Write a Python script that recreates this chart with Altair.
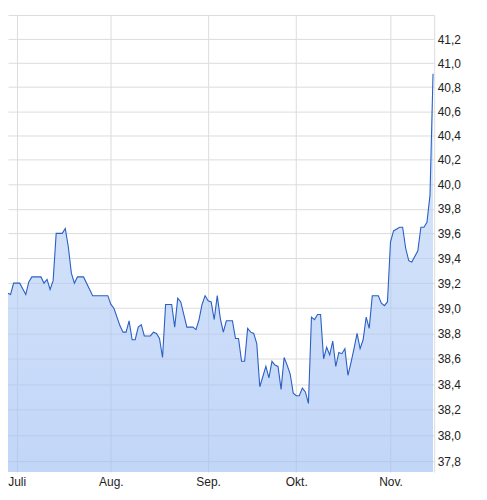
import altair as alt
import pandas as pd

# Kursverlauf
dates = [
    "2024-06-26", "2024-06-27", "2024-06-28", "2024-06-29", "2024-06-30",
    "2024-07-02", "2024-07-04", "2024-07-05", "2024-07-06", "2024-07-09",
    "2024-07-10", "2024-07-11", "2024-07-12", "2024-07-13", "2024-07-14",
    "2024-07-16", "2024-07-17", "2024-07-18", "2024-07-19", "2024-07-20",
    "2024-07-21", "2024-07-23", "2024-07-26", "2024-07-31", "2024-08-01",
    "2024-08-02", "2024-08-04", "2024-08-05", "2024-08-06", "2024-08-07",
    "2024-08-08", "2024-08-09", "2024-08-10", "2024-08-11", "2024-08-12",
    "2024-08-14", "2024-08-15", "2024-08-16", "2024-08-17", "2024-08-18",
    "2024-08-19", "2024-08-21", "2024-08-22", "2024-08-23", "2024-08-24",
    "2024-08-26", "2024-08-28", "2024-08-29", "2024-08-30", "2024-08-31",
    "2024-09-01", "2024-09-02", "2024-09-03", "2024-09-04", "2024-09-05",
    "2024-09-06", "2024-09-07", "2024-09-08", "2024-09-10", "2024-09-11",
    "2024-09-12", "2024-09-13", "2024-09-14", "2024-09-15", "2024-09-16",
    "2024-09-17", "2024-09-18", "2024-09-19", "2024-09-21", "2024-09-22",
    "2024-09-23", "2024-09-24", "2024-09-25", "2024-09-26", "2024-09-27",
    "2024-09-28", "2024-09-29", "2024-09-30", "2024-10-01", "2024-10-02",
    "2024-10-03", "2024-10-04", "2024-10-05", "2024-10-06", "2024-10-07",
    "2024-10-08", "2024-10-09", "2024-10-10", "2024-10-11", "2024-10-12",
    "2024-10-13", "2024-10-14", "2024-10-15", "2024-10-16", "2024-10-17",
    "2024-10-18", "2024-10-19", "2024-10-20", "2024-10-21", "2024-10-22",
    "2024-10-23", "2024-10-24", "2024-10-25", "2024-10-26", "2024-10-28",
    "2024-10-29", "2024-10-30", "2024-10-31", "2024-11-01", "2024-11-02",
    "2024-11-04", "2024-11-05", "2024-11-06", "2024-11-07", "2024-11-08",
    "2024-11-10", "2024-11-11", "2024-11-12", "2024-11-13", "2024-11-14",
    "2024-11-15",
]
prices = [
    39.02, 39.07, 39.12, 39.11, 39.20,
    39.20, 39.11, 39.21, 39.25, 39.25,
    39.20, 39.23, 39.15, 39.22, 39.60,
    39.60, 39.64, 39.49, 39.28, 39.20,
    39.25, 39.25, 39.10, 39.10, 39.03,
    39.00, 38.86, 38.81, 38.81, 38.90,
    38.75, 38.75, 38.85, 38.87, 38.78,
    38.78, 38.81, 38.80, 38.76, 38.61,
    39.03, 39.03, 38.85, 39.08, 39.05,
    38.85, 38.85, 38.83, 38.91, 39.03,
    39.10, 39.06, 39.05, 38.91, 39.10,
    38.92, 38.81, 38.90, 38.90, 38.76,
    38.76, 38.58, 38.58, 38.84, 38.81,
    38.80, 38.72, 38.38, 38.54, 38.45,
    38.58, 38.55, 38.54, 38.36, 38.61,
    38.55, 38.48, 38.33, 38.31, 38.31,
    38.37, 38.34, 38.25, 38.93, 38.91,
    38.95, 38.95, 38.60, 38.69, 38.63,
    38.74, 38.54, 38.65, 38.64, 38.68,
    38.47, 38.57, 38.68, 38.80, 38.68,
    38.75, 38.93, 38.84, 39.10, 39.10,
    39.04, 39.02, 39.05, 39.53, 39.62,
    39.65, 39.65, 39.48, 39.38, 39.37,
    39.46, 39.65, 39.65, 39.69, 39.91,
    40.91,
]

month_names = ["Jan.", "Feb.", "März", "Apr.", "Mai", "Juni",
               "Juli", "Aug.", "Sep.", "Okt.", "Nov.", "Dez."]
month_ticks = ["2024-07-01", "2024-08-01", "2024-09-02", "2024-10-01", "2024-11-01"]
y_ticks = [37.8, 38.0, 38.2, 38.4, 38.6, 38.8, 39.0, 39.2, 39.4, 39.6,
           39.8, 40.0, 40.2, 40.4, 40.6, 40.8, 41.0, 41.2, 41.4]
y_min, y_max = 37.718, 41.404
x_start = pd.Timestamp("2024-06-28T03:36:00Z")
x_end = pd.Timestamp("2024-11-15T09:07:00Z")

df = pd.DataFrame({"date": dates, "price": prices})

def ms(ts):
    return int(pd.Timestamp(ts, tz="UTC").value // 10**6) if pd.Timestamp(ts).tzinfo is None else int(pd.Timestamp(ts).value // 10**6)

x_enc = alt.X(
    "date:T",
    scale=alt.Scale(type="utc", domain=[ms(x_start), ms(x_end)]),
    axis=alt.Axis(
        values=[ms(t) for t in month_ticks],
        labelExpr="%s[utcmonth(datum.value)]" % str(month_names).replace('"', "'"),
        title=None,
        ticks=False,
        domain=False,
        labelPadding=4,
        labelFont="Liberation Sans",
        labelFontSize=12,
        labelColor="#222222",
        gridColor="#dcdcdc",
        gridWidth=1,
    ),
)
y_scale = alt.Scale(type="log", domain=[y_min, y_max], nice=False, zero=False)
y_enc = alt.Y(
    "price:Q",
    scale=y_scale,
    axis=alt.Axis(
        orient="right",
        values=y_ticks,
        labelExpr="datum.value > 41.3 ? '' : replace(format(datum.value, '.1f'), '.', ',')",
        title=None,
        ticks=False,
        domainColor="#dcdcdc",
        labelPadding=3,
        labelFont="Liberation Sans",
        labelFontSize=12,
        labelColor="#222222",
        gridColor="#dcdcdc",
        gridWidth=1,
    ),
)

area = alt.Chart(df).mark_area(
    clip=True,
    fillOpacity=0.63,
    color=alt.Gradient(
        gradient="linear",
        stops=[alt.GradientStop(color="#c6daf8", offset=0),
               alt.GradientStop(color="#9ebef4", offset=1)],
        x1=0, x2=0, y1=0, y2=1,
    ),
).encode(x=x_enc, y=y_enc, y2=alt.datum(y_min))

line = alt.Chart(df).mark_line(clip=True, color="#2a5fc4", strokeWidth=1.1).encode(
    x="date:T", y="price:Q"
)

chart = (
    alt.layer(area, line)
    .properties(
        width=428,
        height=459,
        autosize=alt.AutoSizeParams(type="none"),
        padding={"left": 0, "top": 6, "right": 45, "bottom": 25},
        background="white",
    )
    .configure_view(stroke=None)
)

chart.save("out.html", embed_options={"renderer": "svg", "actions": False})
